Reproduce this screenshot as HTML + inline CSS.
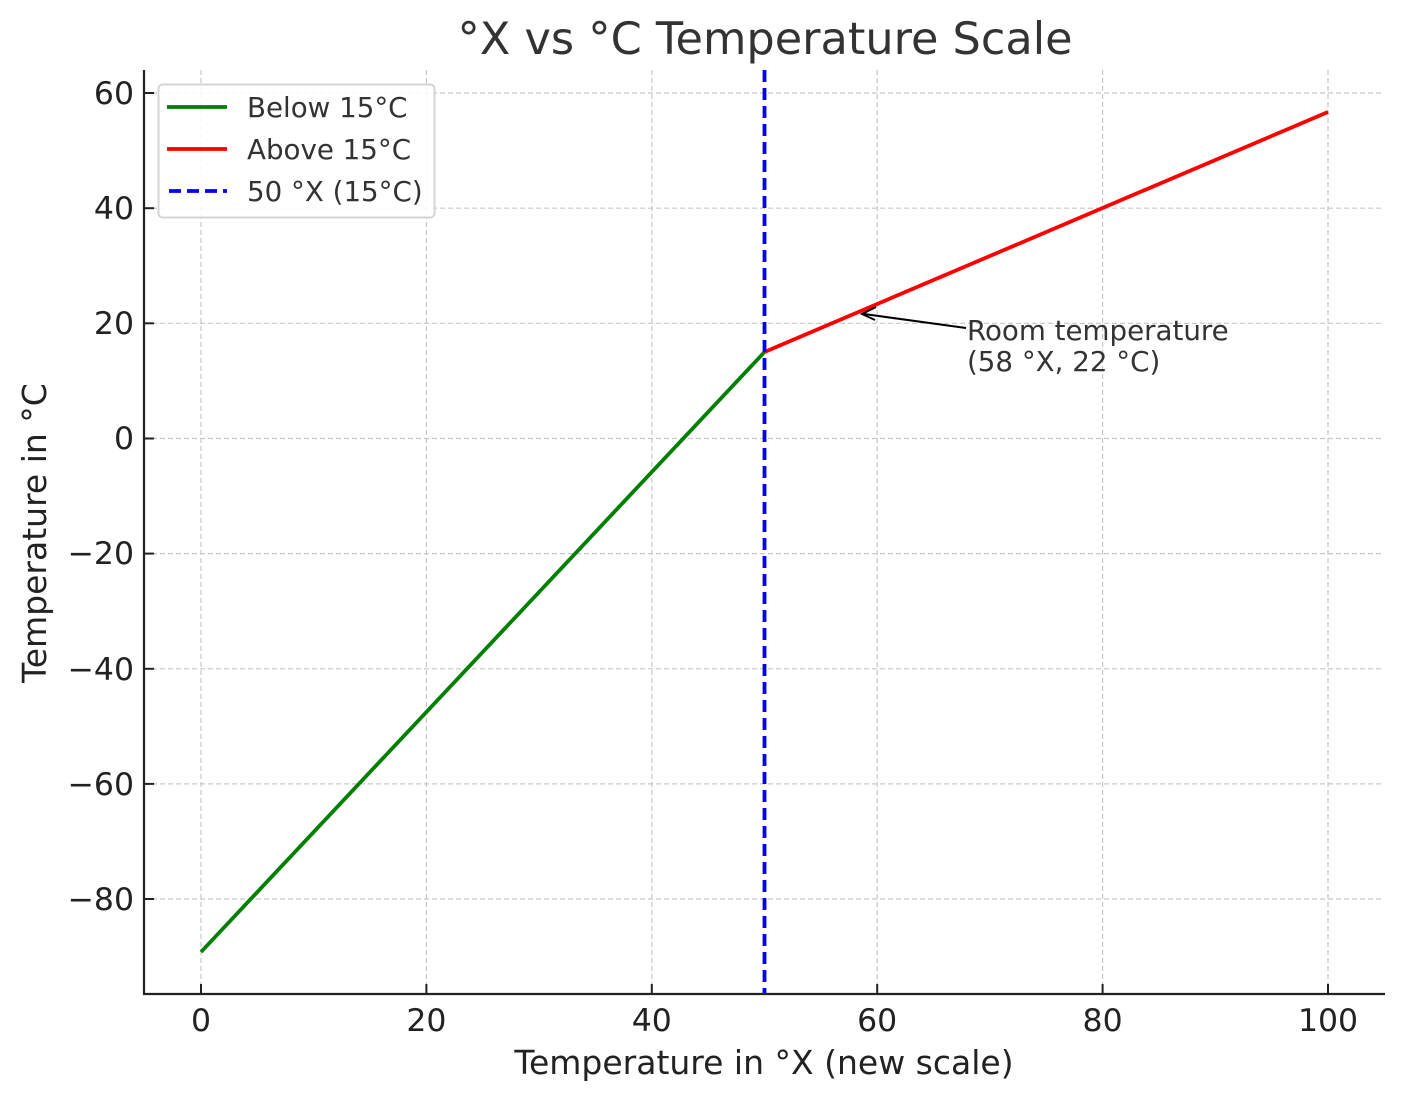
<!DOCTYPE html>
<html><head><meta charset="utf-8"><style>body{margin:0;background:#fff}svg{display:block}</style></head><body>
<svg width="1404" height="1101" viewBox="0 0 1404 1101" xmlns="http://www.w3.org/2000/svg" font-family="DejaVu Sans, Liberation Sans, sans-serif">
<rect width="1404" height="1101" fill="#fff"/>
<g stroke="#c8c8c8" stroke-width="1.2" stroke-dasharray="5,3">
<line x1="201" y1="70" x2="201" y2="994"/><line x1="426.4" y1="70" x2="426.4" y2="994"/><line x1="651.8" y1="70" x2="651.8" y2="994"/><line x1="877.2" y1="70" x2="877.2" y2="994"/><line x1="1102.6" y1="70" x2="1102.6" y2="994"/><line x1="1328" y1="70" x2="1328" y2="994"/>
<line x1="144" y1="93" x2="1384" y2="93"/><line x1="144" y1="208.2" x2="1384" y2="208.2"/><line x1="144" y1="323.3" x2="1384" y2="323.3"/><line x1="144" y1="438.5" x2="1384" y2="438.5"/><line x1="144" y1="553.6" x2="1384" y2="553.6"/><line x1="144" y1="668.8" x2="1384" y2="668.8"/><line x1="144" y1="783.9" x2="1384" y2="783.9"/><line x1="144" y1="899" x2="1384" y2="899"/>
</g>
<line x1="201" y1="952" x2="764.5" y2="352" stroke="#008000" stroke-width="3.8"/>
<line x1="764.5" y1="352" x2="1328" y2="112" stroke="#ff0000" stroke-width="3.8"/>
<line x1="764.5" y1="70" x2="764.5" y2="994" stroke="#0000ff" stroke-width="3.8" stroke-dasharray="12,6"/>
<line x1="966" y1="328" x2="864" y2="314" stroke="#000" stroke-width="2"/>
<path d="M876 307 L862 314 L875 320" fill="none" stroke="#000" stroke-width="2"/>
<text x="967" y="340" font-size="27.7" fill="#333">Room temperature</text>
<text x="967" y="371" font-size="27.7" fill="#333">(58 °X, 22 °C)</text>
<g stroke="#222" stroke-width="2.2"><line x1="144" y1="70" x2="144" y2="995"/><line x1="143" y1="994" x2="1385" y2="994"/></g>
<g stroke="#222" stroke-width="2">
<line x1="144" y1="93" x2="154" y2="93"/><line x1="144" y1="208.2" x2="154" y2="208.2"/><line x1="144" y1="323.3" x2="154" y2="323.3"/><line x1="144" y1="438.5" x2="154" y2="438.5"/><line x1="144" y1="553.6" x2="154" y2="553.6"/><line x1="144" y1="668.8" x2="154" y2="668.8"/><line x1="144" y1="783.9" x2="154" y2="783.9"/><line x1="144" y1="899" x2="154" y2="899"/>
<line x1="201" y1="994" x2="201" y2="984"/><line x1="426.4" y1="994" x2="426.4" y2="984"/><line x1="651.8" y1="994" x2="651.8" y2="984"/><line x1="877.2" y1="994" x2="877.2" y2="984"/><line x1="1102.6" y1="994" x2="1102.6" y2="984"/><line x1="1328" y1="994" x2="1328" y2="984"/>
</g>
<g font-size="31.5" fill="#222" text-anchor="end">
<text x="134" y="104">60</text><text x="134" y="219">40</text><text x="134" y="334">20</text><text x="134" y="449">0</text><text x="134" y="564">−20</text><text x="134" y="680">−40</text><text x="134" y="795">−60</text><text x="134" y="910">−80</text>
</g>
<g font-size="31.5" fill="#222" text-anchor="middle">
<text x="201" y="1031">0</text><text x="426.4" y="1031">20</text><text x="651.8" y="1031">40</text><text x="877.2" y="1031">60</text><text x="1102.6" y="1031">80</text><text x="1328" y="1031">100</text>
<text x="764" y="1074" font-size="33">Temperature in °X (new scale)</text>
<text x="765" y="54" font-size="44.6" fill="#333">°X vs °C Temperature Scale</text>
</g>
<text transform="translate(46,533) rotate(-90)" font-size="33" fill="#222" text-anchor="middle">Temperature in °C</text>
<rect x="158.5" y="84.5" width="276" height="133" rx="4" fill="#fff" fill-opacity="0.85" stroke="#d5d5d5" stroke-width="2"/>
<line x1="167" y1="107" x2="227" y2="107" stroke="#008000" stroke-width="3.8"/>
<line x1="167" y1="149" x2="227" y2="149" stroke="#ff0000" stroke-width="3.8"/>
<line x1="169" y1="191" x2="227" y2="191" stroke="#0000ff" stroke-width="3.8" stroke-dasharray="12,6"/>
<g font-size="27.7" fill="#333">
<text x="247" y="117">Below 15°C</text><text x="247" y="159">Above 15°C</text><text x="247" y="201">50 °X (15°C)</text>
</g>
</svg>
</body></html>
